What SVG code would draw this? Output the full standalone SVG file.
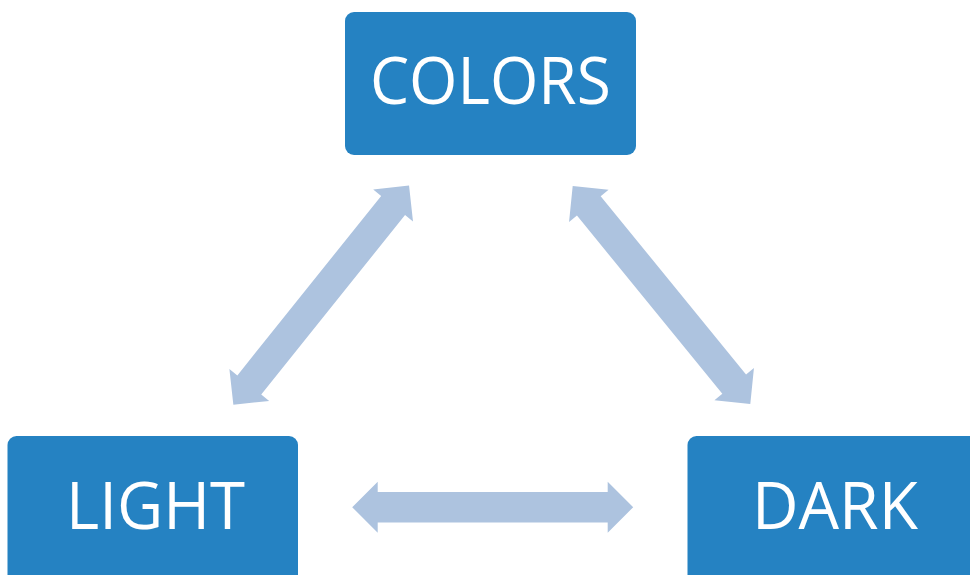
<svg xmlns="http://www.w3.org/2000/svg" width="970" height="575" viewBox="0 0 970 575">
<style>
.box{fill:#2582C2;}
.lbl{fill:#FFFFFF;font-family:"Open Sans","Liberation Sans",sans-serif;font-size:66px;text-anchor:middle;}
.arr{fill:#ADC3DF;}
</style>
<defs>
<path id="dbl" d="M-140.5,0 L-115,-25.5 L-115,-15.3 L115,-15.3 L115,-25.5 L140.5,0 L115,25.5 L115,15.3 L-115,15.3 L-115,25.5 Z"/>
</defs>
<rect width="970" height="575" fill="#FFFFFF"/>
<g id="connectors">
<use href="#dbl" class="arr" transform="translate(321.2,295.2) rotate(-51.3)"/>
<use href="#dbl" class="arr" transform="translate(661.5,295) rotate(50.8)"/>
<use href="#dbl" class="arr" transform="translate(492.7,507.2)"/>
</g>
<g id="colors">
<rect class="box" x="345" y="12" width="291" height="143" rx="9"/>
<text class="lbl" x="490.4" y="104" textLength="241" lengthAdjust="spacingAndGlyphs">COLORS</text>
</g>
<g id="light">
<rect class="box" x="7.5" y="436" width="290.5" height="150" rx="9"/>
<text class="lbl" x="155.5" y="529" textLength="179" lengthAdjust="spacingAndGlyphs">LIGHT</text>
</g>
<g id="dark">
<rect class="box" x="687.5" y="436" width="300" height="150" rx="9"/>
<text class="lbl" x="835" y="529" textLength="166" lengthAdjust="spacingAndGlyphs">DARK</text>
</g>
</svg>
